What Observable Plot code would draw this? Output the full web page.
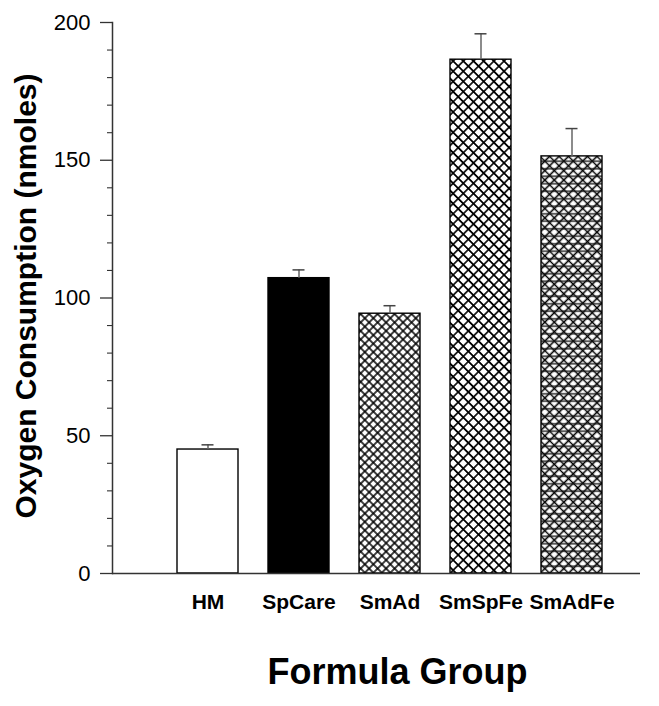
<!DOCTYPE html>
<html>
<head>
<meta charset="utf-8">
<script src="https://cdn.jsdelivr.net/npm/d3@7"></script>
<script src="https://cdn.jsdelivr.net/npm/@observablehq/plot@0.6"></script>
<style>
  html, body { margin: 0; padding: 0; background: #fff; }
  #chart svg { display: block; }
</style>
</head>
<body>
<div id="chart"></div>
<script>
const categories = ["HM", "SpCare", "SmAd", "SmSpFe", "SmAdFe"];
const means = [45, 107.2, 94.3, 186.5, 151.4];
const errors = [1.7, 3.0, 2.9, 9.4, 10.1];
const majorTicks = [0, 50, 100, 150, 200];
const minorTicks = [10, 20, 30, 40, 60, 70, 80, 90, 110, 120, 130, 140, 160, 170, 180, 190];
const fills = ["white", "black", "url(#hatchA)", "url(#hatchB)", "url(#hatchC)"];
const overlays = [null, null, null, null, "url(#hlines)"];
const yLabel = "Oxygen Consumption (nmoles)";
const xLabel = "Formula Group";

const rows = categories.map((c, i) => ({cat: c, mean: means[i], err: errors[i], top: means[i] + errors[i]}));

const barMarks = [];
rows.forEach((r, i) => {
  barMarks.push(Plot.barY([r], {x: "cat", y: "mean", fill: "white"}));
  barMarks.push(Plot.barY([r], {x: "cat", y: "mean", fill: fills[i]}));
  if (overlays[i]) barMarks.push(Plot.barY([r], {x: "cat", y: "mean", fill: overlays[i]}));
  barMarks.push(Plot.barY([r], {x: "cat", y: "mean", fill: "none", stroke: "black", strokeWidth: 1.4}));
});

const svg = Plot.plot({
  width: 659,
  height: 706,
  marginLeft: 112,
  marginRight: 19,
  marginTop: 22,
  marginBottom: 133,
  style: {fontFamily: "'Liberation Sans', Arial, sans-serif", background: "white", color: "black"},
  x: {domain: categories, paddingInner: 0.332, paddingOuter: 0.559, align: 0.632, axis: null},
  y: {domain: [0, 200], axis: null},
  marks: [
    ...barMarks,
    Plot.ruleX(rows, {x: "cat", y1: "mean", y2: "top", stroke: "#666", strokeWidth: 1.5}),
    Plot.tickY(rows, {x: "cat", y: "top", stroke: "#444", strokeWidth: 1.5, insetLeft: 24.5, insetRight: 24.5}),
    Plot.axisY(majorTicks, {anchor: "left", tickSize: 12, tickPadding: 10, fontSize: 22, label: null, stroke: "#333", strokeWidth: 1.3}),
    Plot.axisY(minorTicks, {anchor: "left", tickSize: 5, tickFormat: () => "", label: null, stroke: "#333", strokeWidth: 1.1}),
    Plot.axisX({anchor: "bottom", tickSize: 0, tickPadding: 21, fontSize: 21, fontWeight: "bold", label: null}),
    Plot.frame({anchor: "left", stroke: "#333", strokeWidth: 1.5}),
    Plot.ruleY([0], {stroke: "#333", strokeWidth: 1.5}),
    Plot.text([yLabel], {frameAnchor: "left", rotate: -90, dx: -86, dy: -2, fontSize: 30, fontWeight: "bold", textAnchor: "middle", lineAnchor: "middle"}),
    Plot.text([xLabel], {frameAnchor: "bottom", dx: 21, dy: 98.5, fontSize: 36, fontWeight: "bold", textAnchor: "middle", lineAnchor: "middle"})
  ]
});

d3.select(svg).insert("defs", ":first-child").html(`
  <pattern id="hatchA" patternUnits="userSpaceOnUse" width="6" height="6" patternTransform="rotate(45)">
    <path d="M0,3H6M3,0V6" stroke="black" stroke-width="1.5" fill="none"/>
  </pattern>
  <pattern id="hatchB" patternUnits="userSpaceOnUse" width="7.2" height="7.2" patternTransform="rotate(45)">
    <path d="M0,3.6H7.2M3.6,0V7.2" stroke="black" stroke-width="1.6" fill="none"/>
  </pattern>
  <pattern id="hatchC" patternUnits="userSpaceOnUse" width="6.7" height="6.7" patternTransform="rotate(45)">
    <path d="M0,3.35H6.7M3.35,0V6.7" stroke="black" stroke-width="1.6" fill="none"/>
  </pattern>
  <pattern id="hlines" patternUnits="userSpaceOnUse" width="10" height="7.5">
    <path d="M0,3.75H10" stroke="#111" stroke-width="1.3" fill="none"/>
  </pattern>
`);

document.getElementById("chart").appendChild(svg);
</script>
</body>
</html>
